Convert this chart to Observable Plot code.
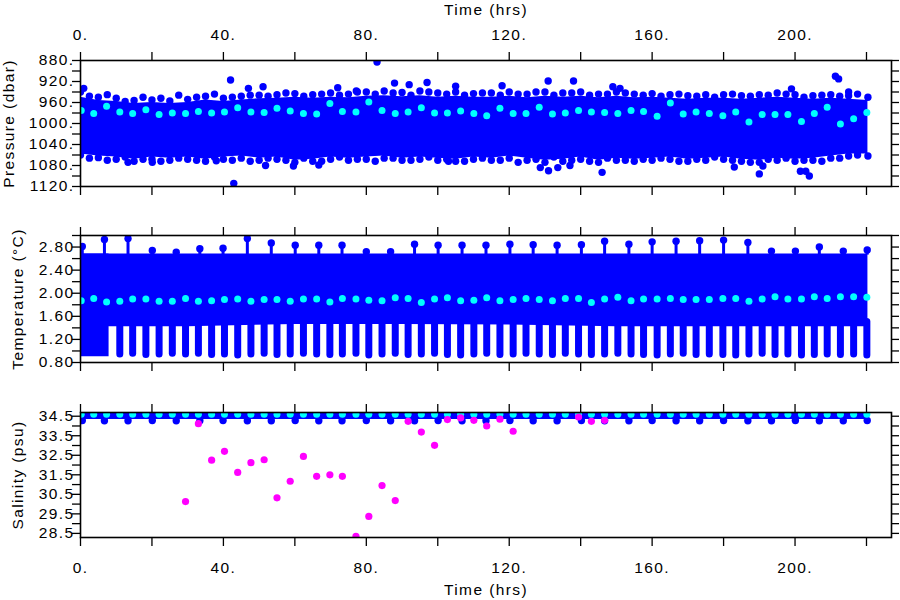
<!DOCTYPE html>
<html><head><meta charset="utf-8">
<script src="https://cdn.jsdelivr.net/npm/d3@7"></script>
<script src="https://cdn.jsdelivr.net/npm/@observablehq/plot@0.6"></script>
<style>
body{margin:0;background:#fff;}
#chart{position:relative;width:900px;height:600px;overflow:hidden;background:#fff;}
#chart svg{position:absolute;left:0;}
#chart svg text{letter-spacing:1.4px;}
</style></head><body><div id="chart"></div>
<script>
// ---------- data ----------
// times (hrs) of the regular profile samples (cyan points)
const castTime = [0.2,3.7,7.3,11.0,14.6,18.3,22.0,25.7,29.4,33.0,36.7,40.3,44.0,47.7,51.4,55.0,58.7,
  62.4,66.1,69.8,73.3,77.1,80.7,84.4,88.1,91.7,95.4,99.1,102.7,106.4,110.1,113.7,117.4,121.1,124.7,128.4,132.1,135.7,139.4,143.0,146.7,
  150.4,154.1,157.6,161.4,165.1,168.7,172.3,176.0,179.8,183.4,187.1,190.8,194.4,198.0,201.8,205.4,209.0,212.7,216.4,220.1];
const pressureCyan = [975,981,967,978,981,974,983,980,981,977,980,978,970,978,979,971,976,
  981,982,962,977,978,959,975,981,978,970,980,980,976,981,985,971,981,981,969,982,980,975,978,979,
  981,975,977,986,961,982,978,981,985,978,997,983,983,983,996,981,969,1001,991,979];
const temperatureCyan = [1.87,1.91,1.85,1.86,1.90,1.90,1.86,1.86,1.91,1.86,1.87,1.89,1.90,1.86,1.89,1.89,1.86,
  1.90,1.90,1.85,1.91,1.90,1.88,1.87,1.92,1.91,1.84,1.90,1.92,1.87,1.88,1.92,1.87,1.89,1.91,1.89,1.87,1.91,1.91,1.84,1.90,
  1.93,1.87,1.90,1.90,1.91,1.89,1.89,1.89,1.91,1.91,1.86,1.90,1.94,1.90,1.90,1.94,1.91,1.94,1.94,1.93];
const salinityCyan = [34.6,34.6,34.6,34.6,34.6,34.6,34.6,34.6,34.6,34.6,34.6,34.6,34.6,34.6,34.6,34.6,34.6,
  34.6,34.6,34.6,34.6,34.6,34.6,34.6,34.6,34.6,34.6,34.6,34.6,34.6,34.6,34.6,34.6,34.6,34.6,34.6,34.6,34.6,34.6,34.6,34.6,
  34.6,34.6,34.6,34.6,34.6,34.6,34.6,34.6,34.6,34.6,34.6,34.6,34.6,34.6,34.6,34.6,34.6,34.6,34.6,34.6];

// pressure: dense blue cloud (solid core + scattered edge points)
const pEdgeTime = [0,5,10,15,20,25,30,35,40,45,50,55,60,65,70,75,80,85,90,95,100,105,110,115,120,125,130,135,140,145,150,155,160,165,170,175,180,185,190,195,200,205,210,215,220.4];
const pCoreTop = [950,956,958,962,960,962,960,955,958,955,953,952,950,952,950,951,948,947,949,947,950,948,950,950,948,951,948,950,948,951,948,951,950,952,954,952,952,954,952,950,952,954,952,954,956];
const pCoreBottom = [1058,1062,1064,1068,1064,1066,1064,1068,1064,1062,1066,1064,1070,1068,1064,1066,1064,1062,1066,1064,1066,1068,1064,1066,1062,1066,1070,1068,1064,1070,1066,1068,1066,1064,1068,1066,1064,1068,1070,1066,1068,1066,1062,1058,1058];
const pUpper = [940,950,952,956,955,957,954,948,952,948,946,945,943,945,942,944,940,938,941,938,942,940,943,942,940,944,940,942,940,944,940,944,943,945,947,945,945,947,945,942,945,947,945,947,950];
const pLower = [1060,1065,1068,1072,1068,1070,1068,1072,1068,1066,1070,1068,1074,1072,1068,1070,1068,1066,1070,1068,1070,1072,1068,1070,1066,1070,1074,1072,1068,1074,1070,1072,1070,1068,1072,1070,1068,1072,1074,1070,1072,1070,1066,1062,1062];
const pEdgeTime2 = [2.5,7.5,12.5,17.5,22.5,27.5,32.5,37.5,42.5,47.5,52.5,
  57.5,62.5,67.5,72.5,77.5,82.5,87.5,92.5,97.5,102.5,107.5,
  112.5,117.5,122.5,127.5,132.5,137.5,142.5,147.5,152.5,157.5,162.5,
  167.5,172.5,177.5,182.5,187.5,192.5,197.5,202.5,207.5,212.5,217.5];
const pUpper2 = [948,945,958,950,952,946,950,944,950,946,948,
  942,948,944,946,940,944,942,946,940,944,946,
  942,946,944,940,946,942,946,944,942,946,948,
  944,948,950,944,948,946,944,950,946,948,944];
const pLower2 = [1066,1070,1064,1068,1072,1066,1070,1064,1070,1072,1066,
  1070,1066,1072,1064,1068,1072,1066,1070,1064,1068,1072,
  1066,1070,1074,1068,1064,1070,1072,1066,1070,1068,1066,
  1072,1068,1064,1070,1074,1068,1066,1070,1072,1066,1060];
// pressure: isolated blue points
const pOutTime = [0.9,13.3,20.1,38,42,42.9,47,51.1,51.8,59.6,66.7,72,77.2,83,87.9,92,97,103,105,118,128.7,130.9,131,133.6,137,138,146,149,151,183,190,191,199,201.5,203,204,211.3,212.2,215];
const pOutVal  = [933,1074,1074,1071,917,1114,933,930,1080,1081,1079,932,938,883,923,926,922,1072,929,928,1084,919,1090,1084,1080,919,1093,930,933,1083,1096,1081,934,1091,1091,1100,910,915,940];

// temperature: dense blue band
const tBandTime = [0,30,60,90,120,150,180,220.4];
const tBandLow  = [1.42,1.42,1.46,1.46,1.45,1.42,1.42,1.42];
const tBandHigh = [2.68,2.68,2.68,2.68,2.68,2.68,2.68,2.68];
const tBlockTime = [0,8.0];
const tBlockLow = [0.90,0.90];
const tBlockHigh = [2.68,2.68];
// temperature: deep ends of each profile (from castTime[3] on)
const tBarBottom = [0.94,0.95,0.93,0.94,0.95,0.94,0.95,0.93,0.94,0.92,
  0.94,0.95,0.93,0.94,0.95,0.94,0.93,0.94,0.95,0.92,
  0.94,0.95,0.93,0.94,0.95,0.93,0.92,0.94,0.95,0.93,
  0.94,0.95,0.94,0.93,0.95,0.94,0.93,0.94,0.95,0.94,
  0.93,0.92,0.94,0.95,0.93,0.94,0.93,0.92,0.94,0.95,
  0.93,0.94,0.92,0.93,0.94,0.93,0.94,0.92];
// times of the warm spikes / salinity dips
const spikeTime = [0.5,6.7,13.3,20.1,26.8,33.4,39.9,46.7,53.4,60.1,
  66.7,73.2,80.0,86.8,93.5,100.1,106.8,113.5,120.2,126.7,133.4,140.2,146.7,
  153.5,160.0,166.7,173.3,180.0,186.8,193.4,200.1,206.8,213.5,220.2];
const spikeTemp = [2.81,2.93,2.95,2.74,2.71,2.77,2.78,2.95,2.87,2.83,
  2.83,2.83,2.72,2.72,2.85,2.83,2.83,2.83,2.85,2.84,2.83,2.84,2.90,
  2.85,2.89,2.90,2.91,2.92,2.88,2.73,2.73,2.80,2.73,2.75];
const dipSal = [34.28,34.27,34.27,34.28,34.27,34.27,34.28,34.27,34.27,34.28,
  34.27,34.27,34.28,34.27,34.27,34.28,34.27,34.27,34.28,34.27,34.27,34.28,34.27,
  34.27,34.28,34.27,34.27,34.28,34.27,34.27,34.28,34.27,34.27,34.28];

// salinity: dense band and outliers (magenta)
const sBandTime = [0,220.4];
const sBandLow = [34.33,34.33];
const sBandHigh = [34.75,34.75];
const magTime = [29.4,33.0,36.7,40.3,44.0,47.7,51.4,55.0,58.7,62.4,66.1,69.8,73.3,77.1,80.7,84.4,88.1,91.7,95.4,99.1,102.7,106.4,110.1,113.7,117.4,121.1,139.4,143.0,146.7];
const magSal  = [30.13,34.12,32.25,32.70,31.62,32.12,32.27,30.32,31.17,32.44,31.42,31.50,31.42,28.35,29.37,30.95,30.18,34.24,33.69,33.01,34.33,34.41,34.29,34.00,34.35,33.73,34.46,34.24,34.29];

// axes
const timeTicks = [0,40,80,120,160,200];
const timeMinor = [0,20,40,60,80,100,120,140,160,180,200,220];
const pTicks = [880,920,960,1000,1040,1080,1120];
const pMinor = [880,900,920,940,960,980,1000,1020,1040,1060,1080,1100,1120];
const tTicks = [0.8,1.2,1.6,2.0,2.4,2.8];
const tMinor = [0.8,1.0,1.2,1.4,1.6,1.8,2.0,2.2,2.4,2.6,2.8,3.0];
const sTicks = [28.5,29.5,30.5,31.5,32.5,33.5,34.5];
const sMinor = [28.5,29.0,29.5,30.0,30.5,31.0,31.5,32.0,32.5,33.0,33.5,34.0,34.5];

// ---------- drawing ----------
const BLUE = "#0000ff", CYAN = "#00ffff", MAG = "#ff00ff";
const FONT = "Liberation Sans";
const FS = 15.5;
const none = () => "";

function xAxes(top, bottom) {
  const m = [];
  m.push(Plot.axisX(timeMinor, {anchor: "top", tickSize: 9, tickFormat: none, strokeWidth: 1.3, label: null}));
  m.push(Plot.axisX(timeMinor, {anchor: "bottom", tickSize: 9, tickFormat: none, strokeWidth: 1.3, label: null}));
  if (top) m.push(Plot.axisX(timeTicks, {anchor: "top", tickSize: 0, tickPadding: 21, tickFormat: d => d + ".", label: null, fontSize: FS}));
  if (bottom) m.push(Plot.axisX(timeTicks, {anchor: "bottom", tickSize: 0, tickPadding: 24, tickFormat: d => d + ".", label: null, fontSize: FS}));
  return m;
}
function yAxes(minor, major, fmt) {
  return [
    Plot.axisY(minor, {anchor: "left", tickSize: 8, tickFormat: none, strokeWidth: 1.3, label: null}),
    Plot.axisY(minor, {anchor: "right", tickSize: 7, tickFormat: none, strokeWidth: 1.3, label: null}),
    Plot.axisY(major, {anchor: "left", tickSize: 0, tickPadding: 6, tickFormat: fmt, label: null, fontSize: FS})
  ];
}
function yLabel(text, dx) {
  return Plot.text([text], {frameAnchor: "left", text: d => d, rotate: -90, dx, fontSize: FS, fill: "black", textAnchor: "middle", lineAnchor: "middle"});
}
function panel(top, mt, mb, yopt, marks) {
  const svg = Plot.plot({
    width: 900, height: 200,
    marginLeft: 80, marginRight: 9, marginTop: mt, marginBottom: mb,
    style: {fontFamily: FONT, fontSize: FS + "px", background: "transparent", overflow: "visible"},
    x: {domain: [0, 227], axis: null},
    y: {...yopt, axis: null},
    marks
  });
  svg.style.top = top + "px";
  document.getElementById("chart").appendChild(svg);
}

const casts = castTime.map((t, i) => ({t, p: pressureCyan[i], temp: temperatureCyan[i], s: salinityCyan[i]}));
const pEdge = pEdgeTime.map((t, i) => ({t, top: pCoreTop[i], bot: pCoreBottom[i], lo: pUpper[i], hi: pLower[i]}));
const pEdge2 = pEdgeTime2.map((t, i) => ({t, lo: pUpper2[i], hi: pLower2[i]}));
const pOut = pOutTime.map((t, i) => ({t, v: pOutVal[i]}));
const tBand = tBandTime.map((t, i) => ({t, lo: tBandLow[i], hi: tBandHigh[i]}));
const tBlock = tBlockTime.map((t, i) => ({t, lo: tBlockLow[i], hi: tBlockHigh[i]}));
const tBars = castTime.slice(3).map((t, i) => ({t, b: tBarBottom[i]}));
const spikes = spikeTime.map((t, i) => ({t, v: spikeTemp[i], s: dipSal[i]}));
const sBand = sBandTime.map((t, i) => ({t, lo: sBandLow[i], hi: sBandHigh[i]}));
const mags = magTime.map((t, i) => ({t, v: magSal[i]}));
const R = 3.7;

// Pressure
panel(0, 60, 14, {domain: [880, 1120], reverse: true}, [
  Plot.areaY(pEdge, {x: "t", y1: "top", y2: "bot", fill: BLUE, clip: true}),
  Plot.dot(pEdge, {x: "t", y: "lo", r: R, fill: BLUE, clip: true}),
  Plot.dot(pEdge, {x: "t", y: "hi", r: R, fill: BLUE, clip: true}),
  Plot.dot(pEdge2, {x: "t", y: "lo", r: R, fill: BLUE, clip: true}),
  Plot.dot(pEdge2, {x: "t", y: "hi", r: R, fill: BLUE, clip: true}),
  Plot.dot(pOut, {x: "t", y: "v", r: R, fill: BLUE, clip: true}),
  Plot.dot(casts, {x: "t", y: "p", r: 3.5, fill: CYAN, clip: true}),
  Plot.frame({stroke: "black", strokeWidth: 1.6}),
  ...xAxes(true, false),
  ...yAxes(pMinor, pTicks, d => d + "."),
  yLabel("Pressure (dbar)", -71),
  Plot.text(["Time (hrs)"], {frameAnchor: "top", text: d => d, dy: -50, fontSize: FS, fill: "black", textAnchor: "middle", lineAnchor: "middle"})
]);

// Temperature
panel(200, 35, 38, {domain: [0.8, 3.0]}, [
  Plot.areaY(tBand, {x: "t", y1: "lo", y2: "hi", fill: BLUE, clip: true}),
  Plot.areaY(tBlock, {x: "t", y1: "lo", y2: "hi", fill: BLUE, clip: true}),
  Plot.ruleX(tBars, {x: "t", y1: "b", y2: 1.5, stroke: BLUE, strokeWidth: 7, strokeLinecap: "round", clip: true}),
  Plot.ruleX(spikes, {x: "t", y1: 2.66, y2: "v", stroke: BLUE, strokeWidth: 3, clip: true}),
  Plot.dot(spikes, {x: "t", y: "v", r: R, fill: BLUE, clip: true}),
  Plot.dot(casts, {x: "t", y: "temp", r: 3.5, fill: CYAN, clip: true}),
  Plot.frame({stroke: "black", strokeWidth: 1.6}),
  ...xAxes(false, false),
  ...yAxes(tMinor, tTicks, d3.format(".2f")),
  yLabel("Temperature (\u00b0C)", -62)
]);

// Salinity
panel(400, 12, 63, {domain: [28.29, 34.69]}, [
  Plot.areaY(sBand, {x: "t", y1: "lo", y2: "hi", fill: BLUE, clip: true}),
  Plot.dot(spikes, {x: "t", y: "s", r: R, fill: BLUE, clip: true}),
  Plot.dot(casts, {x: "t", y: "s", r: 3.5, fill: CYAN, clip: true}),
  Plot.dot(mags, {x: "t", y: "v", r: 3.6, fill: MAG, clip: true}),
  Plot.frame({stroke: "black", strokeWidth: 1.6}),
  ...xAxes(false, true),
  ...yAxes(sMinor, sTicks, d3.format(".1f")),
  yLabel("Salinity (psu)", -62),
  Plot.text(["Time (hrs)"], {frameAnchor: "bottom", text: d => d, dy: 53, fontSize: FS, fill: "black", textAnchor: "middle", lineAnchor: "middle"})
]);
</script></body></html>
